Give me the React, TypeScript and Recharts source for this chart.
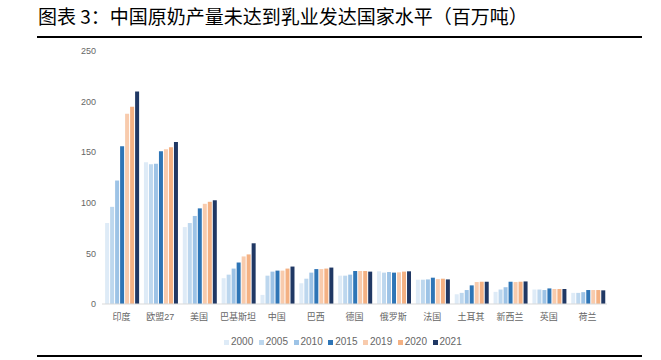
import { Bar, BarChart, XAxis, YAxis, Legend } from "recharts"

const countries = ["印度", "欧盟27", "美国", "巴基斯坦", "中国", "巴西", "德国", "俄罗斯", "法国", "土耳其", "新西兰", "英国", "荷兰"]
const years = ["2000", "2005", "2010", "2015", "2019", "2020", "2021"]
const colors = ["#deebf7", "#bdd7ee", "#9dc3e6", "#2e75b6", "#f8cbad", "#f4b183", "#203864"]

const y2000 = [80, 140, 76, 25.5, 9, 20.5, 28, 32.3, 24, 9.6, 12, 14.3, 11]
const y2005 = [96, 138, 80, 29, 28, 25, 28, 31, 24, 11, 14.3, 14.3, 11]
const y2010 = [122, 138.5, 87, 35, 32, 31, 29, 31.6, 24.3, 13.8, 16.6, 13.8, 11.7]
const y2015 = [156, 151, 94.5, 41, 33, 34.5, 32.6, 31, 26, 18.4, 22, 15.4, 13.8]
const y2019 = [188, 153, 99, 47, 33, 34.5, 32.6, 31.3, 24.6, 21.7, 21.7, 14.8, 13.8]
const y2020 = [195, 155, 101, 49, 35, 35, 32.6, 32, 25, 22, 22, 14.8, 13.8]
const y2021 = [210, 160, 102.5, 60, 37, 36, 32, 32.3, 24.3, 22, 22.3, 14.8, 13.5]

const yTicks = [0, 50, 100, 150, 200, 250]

const series = [y2000, y2005, y2010, y2015, y2019, y2020, y2021]

const data = countries.map((name, i) => {
  const row: Record<string, string | number> = { name }
  years.forEach((yr, k) => {
    row[yr] = series[k][i]
  })
  return row
})

const font = '"Liberation Sans", Arial, "Noto Sans CJK SC", sans-serif'
const grey = "#666"

// legend drawn by hand so the spacing matches the original
const LegendContent = () => (
  <div style={{ display: "flex", fontFamily: font, fontSize: 10, color: grey, lineHeight: "12px" }}>
    {years.map((yr, k) => (
      <div key={yr} style={{ display: "flex", alignItems: "center", marginRight: 5.5 }}>
        <span style={{ width: 5, height: 5, background: colors[k], display: "inline-block", marginRight: 2 }} />
        <span>{yr}</span>
      </div>
    ))}
  </div>
)

export default function App() {
  return (
    <div style={{ position: "absolute", left: 0, top: 0, width: 661, height: 360, background: "#fff" }}>
      <div
        style={{
          position: "absolute",
          left: 38,
          top: 4,
          fontFamily: '"Noto Sans CJK SC", sans-serif',
          fontSize: 19,
          color: "#000",
          whiteSpace: "nowrap",
          lineHeight: "24px",
        }}
      >
        图表 3：中国原奶产量未达到乳业发达国家水平（百万吨）
      </div>
      <div style={{ position: "absolute", left: 37, top: 36, width: 605, height: 2, background: "#000" }} />
      <div style={{ position: "absolute", left: 0, top: 40 }}>
        <BarChart
          width={661}
          height={312}
          data={data}
          margin={{ top: 11, right: 54, left: 62, bottom: 0 }}
          barCategoryGap="8%"
          barGap={1}
        >
          <XAxis
            dataKey="name"
            tickLine={false}
            axisLine={{ stroke: "#d9d9d9" }}
            tick={{ fill: grey, fontSize: 9, fontFamily: font }}
            tickMargin={4}
            interval={0}
            height={26}
          />
          <YAxis
            width={40}
            domain={[0, 250]}
            ticks={yTicks}
            axisLine={false}
            tickLine={false}
            tickSize={0}
            tickMargin={6}
            tick={{ fill: grey, fontSize: 9, fontFamily: font }}
          />
          <Legend
            verticalAlign="bottom"
            height={22}
            content={<LegendContent />}
            wrapperStyle={{ left: 224, top: 296, width: 270 }}
          />
          {years.map((yr, k) => (
            <Bar key={yr} dataKey={yr} fill={colors[k]} isAnimationActive={false} />
          ))}
        </BarChart>
      </div>
      <div style={{ position: "absolute", left: 37, top: 355, width: 605, height: 2, background: "#000" }} />
    </div>
  )
}
